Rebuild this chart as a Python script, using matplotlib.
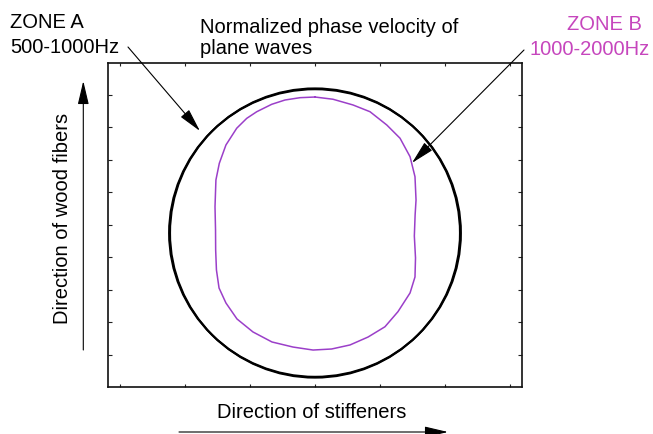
import matplotlib
matplotlib.use("Agg")
import matplotlib.pyplot as plt
from matplotlib.patches import Ellipse

plt.rcParams['font.family'] = ['Liberation Sans', 'DejaVu Sans']

# ---------------- data ----------------
# Zone A (500-1000 Hz): nearly isotropic -> two almost coincident circles
zoneA_center_x = [0.0, 0.0]
zoneA_center_y = [-0.064, -0.064]
zoneA_width = [2.230, 2.244]
zoneA_height = [2.224, 2.212]

# Zone B (1000-2000 Hz): traced outline of the normalized velocity curve
zoneB_x = [0.000, 0.138, 0.292, 0.423, 0.552, 0.654, 0.731, 0.769, 0.777, 0.770,
           0.764, 0.773, 0.769, 0.731, 0.638, 0.538, 0.408, 0.269, 0.128, -0.015,
           -0.169, -0.331, -0.477, -0.600, -0.685, -0.738, -0.758, -0.764, -0.765, -0.769,
           -0.762, -0.736, -0.685, -0.602, -0.525, -0.448, -0.333, -0.231, -0.115, 0.000]
zoneB_y = [0.982, 0.965, 0.921, 0.869, 0.767, 0.665, 0.523, 0.369, 0.190, 0.075,
           -0.087, -0.256, -0.402, -0.525, -0.669, -0.785, -0.864, -0.925, -0.956, -0.964,
           -0.941, -0.902, -0.825, -0.725, -0.602, -0.487, -0.348, -0.195, -0.041, 0.138,
           0.344, 0.472, 0.613, 0.742, 0.818, 0.869, 0.926, 0.959, 0.977, 0.982]

x_ticks = [-1.5, -1.0, -0.5, 0.0, 0.5, 1.0, 1.5]
y_ticks = [-1.0, -0.75, -0.5, -0.25, 0.0, 0.25, 0.5, 0.75, 1.0]

title_lines = ["Normalized phase velocity of", "plane waves"]
zoneA_label = ["ZONE A", "500-1000Hz"]
zoneB_label = ["ZONE B", "1000-2000Hz"]
xlabel = "Direction of stiffeners"
ylabel = "Direction of wood fibers"

# ---------------- figure ----------------
W, H = 653, 434
fig = plt.figure(figsize=(W / 100, H / 100), dpi=100)
ax = fig.add_axes([108 / W, 1 - 386.7 / H, (522 - 108) / W, (386.7 - 62.7) / H])

ax.set_xlim(-1.592, 1.592)
ax.set_ylim(-1.246, 1.246)

purple = '#9b3fc9'
magenta = '#c646bd'

for cx, cy, w, h in zip(zoneA_center_x, zoneA_center_y, zoneA_width, zoneA_height):
    ax.add_patch(Ellipse((cx, cy), w, h, fill=False, edgecolor='black', lw=1.5))

ax.plot(zoneB_x, zoneB_y, color=purple, lw=1.1)

ax.set_xticks(x_ticks)
ax.set_yticks(y_ticks)
ax.tick_params(axis='x', direction='in', length=2.4, width=0.8, top=True, bottom=True,
               labelbottom=False, labeltop=False, color='#222222')
ax.tick_params(axis='y', direction='in', length=3.2, width=0.8, left=True, right=True,
               labelleft=False, labelright=False, color='#222222')
for s in ax.spines.values():
    s.set_linewidth(1.2)
    s.set_color('#111111')

fs = 14.5


def fy(y):
    return H - y


# texts (figure pixel coordinates, y measured from top)
fig.text(10 / W, fy(28) / H, zoneA_label[0], fontsize=fs, va='baseline', ha='left')
fig.text(10 / W, fy(53) / H, zoneA_label[1], fontsize=fs, va='baseline', ha='left')
fig.text(200 / W, fy(33) / H, title_lines[0], fontsize=fs, va='baseline', ha='left')
fig.text(200 / W, fy(54) / H, title_lines[1], fontsize=fs, va='baseline', ha='left')
fig.text(642 / W, fy(30) / H, zoneB_label[0], fontsize=fs, va='baseline', ha='right', color=magenta)
fig.text(650 / W, fy(55) / H, zoneB_label[1], fontsize=fs, va='baseline', ha='right', color=magenta)
fig.text(312 / W, fy(418) / H, xlabel, fontsize=fs, va='baseline', ha='center')
fig.text(63 / W, fy(218) / H, ylabel, fontsize=fs, va='center', ha='center', rotation=90)

arrow_kw = dict(arrowstyle='-|>,head_length=0.85,head_width=0.2', color='black',
                lw=0.8, shrinkA=0, shrinkB=0, mutation_scale=17)

# annotation arrows
ax.annotate('', xy=(-0.885, 0.721), xycoords='data',
            xytext=(128, fy(47)), textcoords='figure pixels',
            arrowprops=dict(**arrow_kw), annotation_clip=False)
ax.annotate('', xy=(0.746, 0.475), xycoords='data',
            xytext=(524, fy(50)), textcoords='figure pixels',
            arrowprops=dict(**arrow_kw), annotation_clip=False)

# direction arrows
ax.annotate('', xy=(448, fy(432)), xycoords='figure pixels',
            xytext=(179, fy(432)), textcoords='figure pixels',
            arrowprops=dict(**arrow_kw), annotation_clip=False)
ax.annotate('', xy=(83.3, fy(81)), xycoords='figure pixels',
            xytext=(83.3, fy(350)), textcoords='figure pixels',
            arrowprops=dict(**arrow_kw), annotation_clip=False)

fig.savefig('out.png', dpi=100)
